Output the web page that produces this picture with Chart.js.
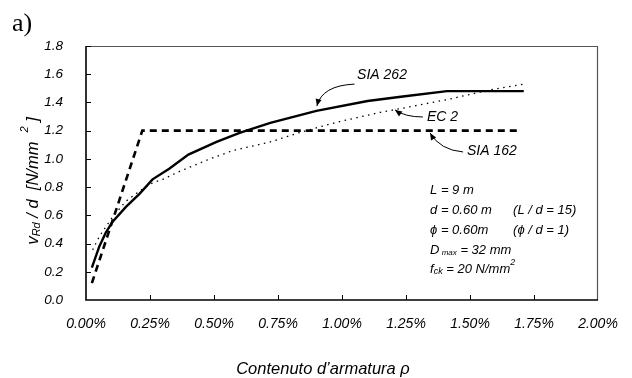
<!DOCTYPE html>
<html>
<head>
<meta charset="utf-8">
<script src="https://cdn.jsdelivr.net/npm/chart.js@4.4.1/dist/chart.umd.min.js"></script>
<style>
    body { margin: 0; background: #fff; }
    canvas { display: block; }
</style>
</head>
<body>
<canvas id="grafico" width="632" height="378"></canvas>
<script>
// valori (x = contenuto d'armatura in %, y = vRd/d in N/mm2)
const sia262X = [0.023, 0.052, 0.078, 0.104, 0.156, 0.208, 0.26, 0.325, 0.40, 0.51, 0.60, 0.72, 0.90, 1.10, 1.23, 1.41, 1.71];
const sia262Y = [0.23, 0.38, 0.48, 0.555, 0.66, 0.75, 0.855, 0.93, 1.03, 1.12, 1.185, 1.255, 1.34, 1.41, 1.44, 1.48, 1.48];

const ec2X = [0.026, 0.052, 0.104, 0.156, 0.208, 0.26, 0.30, 0.364, 0.47, 0.575, 0.72, 0.84, 0.98, 1.15, 1.21, 1.41, 1.58, 1.71];
const ec2Y = [0.355, 0.45, 0.59, 0.70, 0.77, 0.83, 0.855, 0.91, 0.99, 1.06, 1.12, 1.19, 1.26, 1.33, 1.35, 1.42, 1.49, 1.53];

const sia162X = [0.023, 0.22, 1.70];
const sia162Y = [0.12, 1.2, 1.2];

const xMin = 0, xMax = 2, xStep = 0.25;
const yMin = 0, yMax = 1.8, yStep = 0.2;

const FONT = "'Liberation Sans', Arial, sans-serif";

const punti = (xs, ys) => xs.map((x, i) => ({ x: x, y: ys[i] }));

// etichette con freccia, ancorate in coordinate dei dati
const etichette = [
    { testo: "SIA 262", tx: 1.059, ty: 1.595, da: [1.049, 1.53], ctrl: [0.922, 1.52], punta: [0.902, 1.375] },
    { testo: "EC 2", tx: 1.332, ty: 1.297, da: [1.316, 1.297], ctrl: [1.246, 1.297], punta: [1.207, 1.347] },
    { testo: "SIA 162", tx: 1.488, ty: 1.056, da: [1.473, 1.049], ctrl: [1.383, 1.063], punta: [1.344, 1.184] }
];

// testo composto da pezzi (pedici / apici)
function scriviPezzi(ctx, pezzi, x, y) {
    let cx = x;
    pezzi.forEach(p => {
        ctx.font = "italic " + p.size + "px " + FONT;
        ctx.fillText(p.t, cx, y + (p.dy || 0));
        cx += ctx.measureText(p.t).width;
    });
    return cx - x;
}

function larghezzaPezzi(ctx, pezzi) {
    let w = 0;
    pezzi.forEach(p => {
        ctx.font = "italic " + p.size + "px " + FONT;
        w += ctx.measureText(p.t).width;
    });
    return w;
}

function freccia(ctx, a, c, b) {
    ctx.beginPath();
    ctx.moveTo(a[0], a[1]);
    ctx.quadraticCurveTo(c[0], c[1], b[0], b[1]);
    ctx.lineWidth = 1;
    ctx.strokeStyle = "#000";
    ctx.setLineDash([]);
    ctx.stroke();
    const ang = Math.atan2(b[1] - c[1], b[0] - c[0]);
    const l = 7, w = 3;
    ctx.beginPath();
    ctx.moveTo(b[0], b[1]);
    ctx.lineTo(b[0] - l * Math.cos(ang) + w * Math.sin(ang), b[1] - l * Math.sin(ang) - w * Math.cos(ang));
    ctx.lineTo(b[0] - l * Math.cos(ang) - w * Math.sin(ang), b[1] - l * Math.sin(ang) + w * Math.cos(ang));
    ctx.closePath();
    ctx.fillStyle = "#000";
    ctx.fill();
}

const dettagli = {
    id: "dettagli",
    afterDraw(chart) {
        const ctx = chart.ctx;
        const a = chart.chartArea;
        const sx = chart.scales.x, sy = chart.scales.y;
        const px = v => sx.getPixelForValue(v);
        const py = v => sy.getPixelForValue(v);
        ctx.save();

        // riquadro
        ctx.setLineDash([]);
        ctx.strokeStyle = "#555";
        ctx.lineWidth = 1.2;
        ctx.beginPath();
        ctx.moveTo(a.left, a.top + 0.5);
        ctx.lineTo(a.right - 0.5, a.top + 0.5);
        ctx.lineTo(a.right - 0.5, a.bottom);
        ctx.stroke();
        ctx.strokeStyle = "#000";
        ctx.lineWidth = 1.6;
        ctx.beginPath();
        ctx.moveTo(a.left, a.top);
        ctx.lineTo(a.left, a.bottom);
        ctx.lineTo(a.right, a.bottom);
        ctx.stroke();

        // tacche interne
        ctx.lineWidth = 1;
        ctx.beginPath();
        for (let v = yMin + yStep; v <= yMax + 1e-9; v += yStep) {
            const y = Math.round(py(v)) + 0.5;
            ctx.moveTo(a.left, y);
            ctx.lineTo(a.left + 5, y);
        }
        for (let v = xMin + xStep; v < xMax - 1e-9; v += xStep) {
            const x = Math.round(px(v)) + 0.5;
            ctx.moveTo(x, a.bottom);
            ctx.lineTo(x, a.bottom - 5);
        }
        ctx.stroke();

        // etichette curve
        ctx.fillStyle = "#000";
        ctx.textBaseline = "middle";
        ctx.textAlign = "left";
        etichette.forEach(e => {
            ctx.font = "italic 14px " + FONT;
            ctx.fillText(e.testo, px(e.tx), py(e.ty));
            freccia(ctx,
                [px(e.da[0]), py(e.da[1])],
                [px(e.ctrl[0]), py(e.ctrl[1])],
                [px(e.punta[0]), py(e.punta[1])]);
        });

        // dati della prova
        const x0 = px(1.344), x1 = x0 + 83;
        ctx.fillStyle = "#000";
        scriviPezzi(ctx, [{ t: "L = 9 m", size: 13 }], x0, py(0.78));
        scriviPezzi(ctx, [{ t: "d = 0.60 m", size: 13 }], x0, py(0.638));
        scriviPezzi(ctx, [{ t: "(L / d = 15)", size: 13 }], x1, py(0.638));
        scriviPezzi(ctx, [{ t: "\u03d5 = 0.60m", size: 13 }], x0, py(0.496));
        scriviPezzi(ctx, [{ t: "(\u03d5 / d = 1)", size: 13 }], x1, py(0.496));
        scriviPezzi(ctx, [{ t: "D", size: 13 }, { t: " max", size: 8, dy: 3 }, { t: " = 32 mm", size: 13 }], x0, py(0.354));
        scriviPezzi(ctx, [{ t: "f", size: 13 }, { t: "ck", size: 9, dy: 3 }, { t: " = 20 N/mm", size: 13 }, { t: "2", size: 9, dy: -6 }], x0, py(0.22));

        // titolo asse y
        const titoloY = [
            { t: "v", size: 17 }, { t: "Rd", size: 11, dy: 4 }, { t: " / d  [N/mm  ", size: 16.5 },
            { t: "2", size: 11, dy: -8 }, { t: " ]", size: 16.5 }
        ];
        ctx.save();
        ctx.translate(33, 181);
        ctx.rotate(-Math.PI / 2);
        scriviPezzi(ctx, titoloY, -larghezzaPezzi(ctx, titoloY) / 2, 0);
        ctx.restore();

        // titolo asse x
        ctx.font = "italic 16.5px " + FONT;
        ctx.textAlign = "center";
        ctx.fillText("Contenuto d\u2019armatura \u03c1", 323, 369);

        // lettera della figura
        ctx.font = "26px 'Liberation Serif', 'Times New Roman', serif";
        ctx.textAlign = "left";
        ctx.textBaseline = "alphabetic";
        ctx.fillText("a)", 12, 31);

        ctx.restore();
    }
};

const ctx = document.getElementById("grafico").getContext("2d");
new Chart(ctx, {
    type: "scatter",
    data: {
        datasets: [
            {
                label: "SIA 162",
                data: punti(sia162X, sia162Y),
                showLine: true,
                borderColor: "#000",
                borderWidth: 2.6,
                borderDash: [7, 5],
                pointRadius: 0,
                tension: 0
            },
            {
                label: "EC 2",
                data: punti(ec2X, ec2Y),
                showLine: true,
                borderColor: "#000",
                borderWidth: 1.3,
                borderDash: [1.5, 4.5],
                pointRadius: 0,
                tension: 0
            },
            {
                label: "SIA 262",
                data: punti(sia262X, sia262Y),
                showLine: true,
                borderColor: "#000",
                borderWidth: 2.4,
                pointRadius: 0,
                tension: 0
            }
        ]
    },
    options: {
        responsive: false,
        animation: false,
        devicePixelRatio: 1,
        layout: { padding: { top: 46, right: 34, left: 0, bottom: 0 } },
        plugins: {
            legend: { display: false },
            tooltip: { enabled: false }
        },
        scales: {
            x: {
                type: "linear",
                min: xMin,
                max: xMax,
                grid: { display: false },
                border: { display: false },
                afterFit: s => { s.height = 78; },
                ticks: {
                    stepSize: xStep,
                    padding: 8,
                    color: "#000",
                    maxRotation: 0,
                    font: { family: FONT, size: 14, style: "italic" },
                    callback: v => v.toFixed(2) + "%"
                }
            },
            y: {
                min: yMin,
                max: yMax,
                grid: { display: false },
                border: { display: false },
                afterFit: s => { s.width = 86; },
                ticks: {
                    stepSize: yStep,
                    padding: 15,
                    color: "#000",
                    font: { family: FONT, size: 13.5, style: "italic" },
                    callback: v => v.toFixed(1)
                }
            }
        }
    },
    plugins: [dettagli]
});
</script>
</body>
</html>
